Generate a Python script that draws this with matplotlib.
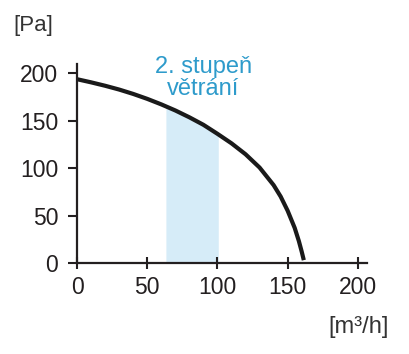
import numpy as np
import matplotlib.pyplot as plt

plt.rcParams['font.family'] = ['Liberation Sans', 'DejaVu Sans']
plt.rcParams['xtick.labelsize'] = 16.5
plt.rcParams['ytick.labelsize'] = 16.5

DARK = '#231f20'
BLUE = '#2e9bcb'
BAND = '#d6ecf8'

# fan curve: flow [m3/h] vs pressure [Pa]
flow = [0, 10, 20, 30, 40, 50, 60, 70, 80, 90, 100, 110, 120, 130,
        140, 145, 150, 155, 158, 160, 161.5]
pressure = [193.5, 190.2, 186.6, 182.6, 178.0, 172.8, 167.0, 160.6, 153.4,
            145.5, 136, 126, 114.5, 100.5, 82, 70, 55, 37, 23, 12, 3]

# range of the 2nd ventilation stage
stage_lo, stage_hi = 63.3, 100.6
stage_label = '2. stupeň\nvětrání'

xticks = [0, 50, 100, 150, 200]
yticks = [0, 50, 100, 150, 200]

fig = plt.figure(figsize=(4.09, 3.54), dpi=100)
ax = fig.add_axes([77 / 409, 1 - 263 / 354, 290 / 409, 199 / 354])

# shaded band under the curve
bx = np.linspace(stage_lo, stage_hi, 50)
by = np.interp(bx, flow, pressure)
ax.fill_between(bx, 0, by, color=BAND, lw=0, zorder=1)

ax.plot(flow, pressure, color='#1a1a1a', lw=3, solid_capstyle='butt', zorder=3)

ax.set_xlim(0, 206.5)
ax.set_ylim(0, 209.5)
ax.set_xticks(xticks)
ax.set_yticks(yticks)

for s in ['top', 'right']:
    ax.spines[s].set_visible(False)
for s in ['left', 'bottom']:
    ax.spines[s].set_linewidth(1.6)
    ax.spines[s].set_color(DARK)
    ax.spines[s].set_zorder(4)

ax.tick_params(axis='x', direction='inout', length=8, width=1.5, color=DARK,
               labelsize=16.5, labelcolor=DARK, pad=5)
ax.tick_params(axis='y', direction='out', length=6.5, width=1.5, color=DARK,
               labelsize=16.5, labelcolor=DARK, pad=7)

ax.text(90, 195, stage_label, color=BLUE, fontsize=17, ha='center',
        va='center', linespacing=1.0, clip_on=False)

fig.text(33 / 409, 1 - 25 / 354, '[Pa]', color='#333333', fontsize=16,
         ha='center', va='center')
fig.text(389 / 409, 1 - 327 / 354, '[m³/h]', color='#333333', fontsize=17,
         ha='right', va='center')

fig.savefig('out.png', dpi=100)
